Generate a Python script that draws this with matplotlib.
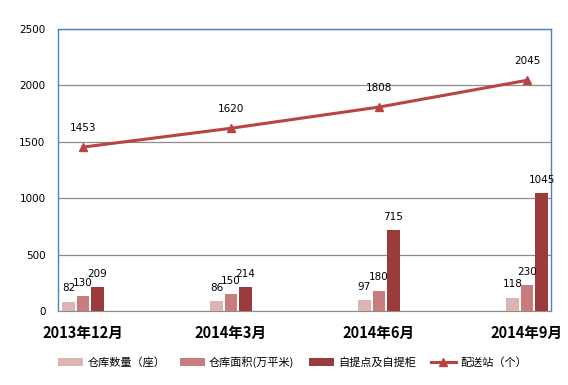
import matplotlib
matplotlib.use("Agg")
import matplotlib.pyplot as plt
import numpy as np

plt.rcParams['font.family'] = ['DejaVu Sans', 'Noto Sans CJK SC']

categories = ["2013年12月", "2014年3月", "2014年6月", "2014年9月"]
warehouses = [82, 86, 97, 118]
area = [130, 150, 180, 230]
pickup = [209, 214, 715, 1045]
stations = [1453, 1620, 1808, 2045]
series_names = ["仓库数量（座）", "仓库面积(万平米)", "自提点及自提柜", "配送站（个）"]
yticks = [0, 500, 1000, 1500, 2000, 2500]

c1, c2, c3, cl = "#DDB4B4", "#C97C7C", "#9B3B3B", "#B84444"

fig = plt.figure(figsize=(5.68, 3.85), dpi=100)
ax = fig.add_axes([58/568, 1-311/385, (551-58)/568, (311-29)/385])

x = np.arange(len(categories))
w = 0.085
step = 0.098
b1 = ax.bar(x - step, warehouses, w, color=c1, label=series_names[0], zorder=3)
b2 = ax.bar(x, area, w, color=c2, label=series_names[1], zorder=3)
b3 = ax.bar(x + step, pickup, w, color=c3, label=series_names[2], zorder=3)
ln, = ax.plot(x, stations, color=cl, lw=2.2, marker="^", markersize=6,
              label=series_names[3], zorder=4)

for bars, vals in ((b1, warehouses), (b2, area), (b3, pickup)):
    for r, v in zip(bars, vals):
        ax.annotate(str(v), (r.get_x() + r.get_width()/2, v), xytext=(0, 6),
                    textcoords="offset points", ha="center", va="bottom",
                    fontsize=7.5, zorder=5)
for xi, v in zip(x, stations):
    ax.annotate(str(v), (xi, v), xytext=(0, 10), textcoords="offset points",
                ha="center", va="bottom", fontsize=7.5, zorder=5)

ax.set_ylim(0, 2500)
ax.set_xlim(-25/148, 3 + 24/148)
ax.set_yticks(yticks)
ax.set_yticklabels([str(t) for t in yticks], fontsize=7.5)
ax.set_xticks(x)
ax.set_xticklabels(categories, fontsize=10.5, fontweight="bold",
                   family=['Noto Sans CJK SC', 'DejaVu Sans'])
ax.tick_params(axis="both", length=0)
ax.tick_params(axis="x", pad=10)
ax.tick_params(axis="y", pad=9)
ax.grid(axis="y", color="#8C8C8C", lw=0.9, zorder=0)
for s in ("left", "right", "top"):
    ax.spines[s].set_color("#4F81BD")
    ax.spines[s].set_linewidth(1)
ax.spines["bottom"].set_color("#8C8C8C")

leg = fig.legend(handles=[b1, b2, b3, ln], labels=series_names, loc="center",
                 bbox_to_anchor=(0.515, 1-362/385), ncol=4, frameon=False,
                 prop={'family': ['Noto Sans CJK SC', 'DejaVu Sans'], 'size': 8},
                 handlelength=2.2, handleheight=0.75, handletextpad=0.4,
                 columnspacing=1.35)

fig.savefig("out.png", dpi=100)
